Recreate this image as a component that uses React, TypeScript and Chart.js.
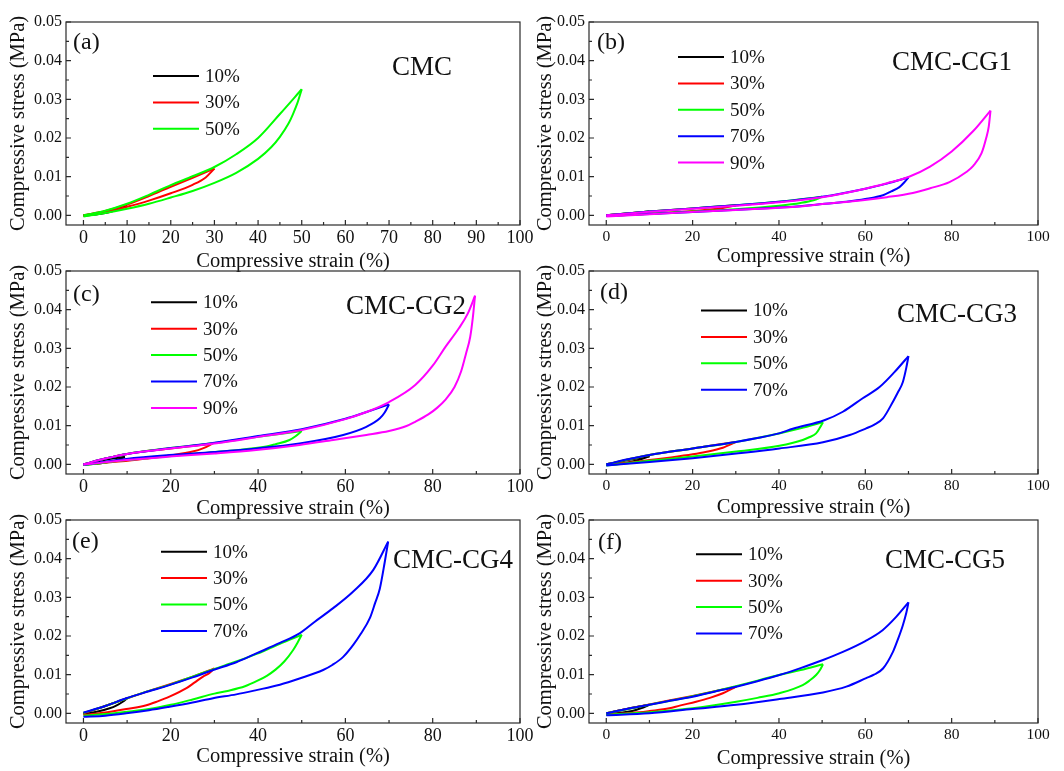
import React, { useEffect, useRef } from 'react';
import { Chart, registerables } from 'chart.js';

Chart.register(...registerables);

type Pt = [number, number];

const FONT = "'Liberation Serif', 'Times New Roman', serif";

const LEVELS = ['10%', '30%', '50%', '70%', '90%'];
const COLORS = ['#000000', '#ff0000', '#00ff00', '#0000ff', '#ff00ff'];

const X_TICKS_10 = [0, 10, 20, 30, 40, 50, 60, 70, 80, 90, 100];
const X_MINOR_5 = [5, 15, 25, 35, 45, 55, 65, 75, 85, 95];
const X_TICKS_20 = [0, 20, 40, 60, 80, 100];
const X_MINOR_10 = [10, 30, 50, 70, 90];
const Y_TICKS = [0, 0.01, 0.02, 0.03, 0.04, 0.05];
const Y_MINOR = [0.005, 0.015, 0.025, 0.035, 0.045];

const X_TITLE = 'Compressive strain (%)';
const Y_TITLE = 'Compressive stress (MPa)';

// ---------- (a) CMC ----------
const CMC_10: Pt[] = [[0, 0], [5, 0.001], [10, 0.0025], [7, 0.0012], [4, 0.0004], [0, -0.0001]];
const CMC_30: Pt[] = [[0, 0], [5, 0.0011], [10, 0.0028], [15, 0.005], [20, 0.0074], [25, 0.0097], [30, 0.0121],
  [28, 0.0098], [25, 0.0079], [20, 0.0057], [15, 0.0038], [10, 0.0022], [5, 0.0008], [0, -0.0001]];
const CMC_50: Pt[] = [[0, 0], [5, 0.0012], [10, 0.003], [15, 0.0053], [20, 0.0078], [25, 0.0101], [30, 0.0125],
  [35, 0.0158], [40, 0.02], [45, 0.0262], [50, 0.0326],
  [49, 0.029], [48, 0.0262], [47, 0.0238], [45, 0.0203], [43, 0.0176], [40, 0.0146], [35, 0.011], [30, 0.0084],
  [25, 0.0063], [20, 0.0046], [15, 0.003], [10, 0.0017], [5, 0.0006], [0, -0.0003]];

// ---------- (b) CMC-CG1 ----------
const CG1_10: Pt[] = [[0, 0], [5, 0.0005], [10, 0.001], [5, 0.0003], [0, -0.0002]];
const CG1_30: Pt[] = [[0, 0], [10, 0.001], [20, 0.0018], [30, 0.0026], [27, 0.0019], [20, 0.0011], [10, 0.0004], [0, -0.0002]];
const CG1_50: Pt[] = [[0, 0], [10, 0.001], [20, 0.0018], [30, 0.0026], [40, 0.0035], [50, 0.0048],
  [48, 0.0039], [45, 0.0032], [40, 0.0025], [30, 0.0016], [20, 0.001], [10, 0.0004], [0, -0.0002]];
const CG1_70: Pt[] = [[0, 0], [10, 0.001], [20, 0.0018], [30, 0.0026], [40, 0.0035], [50, 0.0048], [60, 0.0069], [65, 0.0082], [70, 0.0098],
  [69, 0.0085], [67.9, 0.0073], [66, 0.0062], [64.1, 0.0052], [60, 0.0042], [55.6, 0.0035], [50, 0.0029], [44, 0.0023],
  [35, 0.0017], [24.7, 0.0011], [15, 0.0006], [0, -0.0002]];
const CG1_90: Pt[] = [[0, 0], [10, 0.0009], [20, 0.0017], [30, 0.0025], [40, 0.0034], [50, 0.0047], [60, 0.0069], [65, 0.0083],
  [70, 0.0099], [75, 0.0126], [80, 0.0165], [85, 0.0218], [89, 0.0271],
  [88.6, 0.023], [88, 0.02], [86.9, 0.016], [85, 0.0128], [83.4, 0.0112], [79.5, 0.0086], [75, 0.007], [71, 0.0058],
  [65, 0.0047], [59.4, 0.0039], [50, 0.0029], [44, 0.0022], [30, 0.0014], [20.8, 0.0009], [10, 0.0003], [0, -0.0003]];

// ---------- (c) CMC-CG2 ----------
const CG2_10: Pt[] = [[0, 0], [5, 0.0012], [9.5, 0.0019], [7, 0.0009], [4, 0.0003], [0, -0.0001]];
const CG2_30: Pt[] = [[0, 0], [5, 0.0015], [10, 0.0027], [20, 0.0041], [29.5, 0.0053],
  [27.5, 0.0042], [25, 0.0033], [19.7, 0.0023], [15, 0.0016], [12.2, 0.0012], [5, 0.0004], [0, -0.0001]];
const CG2_50: Pt[] = [[0, 0], [5, 0.0015], [10, 0.0027], [20, 0.0042], [30, 0.0055], [40, 0.0071], [50, 0.0086],
  [48.5, 0.0072], [47.2, 0.0063], [44, 0.0052], [41.9, 0.0046], [34.3, 0.0036], [27, 0.0029], [19.7, 0.0021], [10, 0.0011], [0, -0.0002]];
const CG2_70: Pt[] = [[0, 0], [5, 0.0015], [10, 0.0027], [20, 0.0042], [30, 0.0056], [40, 0.0073], [50, 0.0091], [60, 0.0118],
  [65, 0.0136], [70, 0.0155],
  [69, 0.0134], [67.9, 0.0119], [64.8, 0.0097], [59.5, 0.0076], [49.5, 0.0054], [39.6, 0.0041], [30, 0.0032],
  [19.7, 0.0024], [9.8, 0.0014], [0, -0.0001]];
const CG2_90: Pt[] = [[0, 0], [5, 0.0015], [10, 0.0027], [20, 0.0041], [30, 0.0054], [40, 0.0071], [50, 0.0089], [60, 0.0117],
  [65, 0.0136], [70, 0.0161], [76, 0.0205], [80, 0.0255], [83, 0.0305], [86, 0.0352], [88, 0.0389], [89.7, 0.0436],
  [89.2, 0.038], [88.6, 0.033], [87.6, 0.0285], [86.5, 0.024], [85, 0.02], [83, 0.0168], [81, 0.0146], [79, 0.0129],
  [76, 0.011], [74, 0.0099], [70, 0.0086], [64.8, 0.0076], [57.2, 0.0063], [49.5, 0.005], [39.6, 0.0037], [30, 0.0028],
  [19.7, 0.002], [9.8, 0.0011], [0, -0.0001]];

// ---------- (d) CMC-CG3 ----------
const CG3_10: Pt[] = [[0, 0], [5, 0.0011], [10, 0.0021], [7, 0.001], [4, 0.0003], [0, -0.0002]];
const CG3_30: Pt[] = [[0, 0], [10, 0.0024], [20, 0.0041], [30.1, 0.0058],
  [27, 0.0043], [23, 0.0032], [20, 0.0026], [15, 0.0018], [10, 0.0011], [5, 0.0004], [0, -0.0002]];
const CG3_50: Pt[] = [[0, 0], [10, 0.0024], [20, 0.0041], [30, 0.0058], [40, 0.008], [45, 0.0093], [50.2, 0.0109],
  [49.5, 0.0095], [48.6, 0.008], [47, 0.007], [45.5, 0.0063], [40.1, 0.0048], [30.1, 0.0033], [20, 0.002], [10, 0.0009], [0, -0.0003]];
const CG3_70: Pt[] = [[0, 0], [5, 0.0013], [10, 0.0024], [20, 0.0041], [30, 0.0058], [35, 0.0068], [40, 0.008], [43.2, 0.0092],
  [50.5, 0.0114], [54.8, 0.0136], [59.4, 0.0171], [63.3, 0.02], [67.2, 0.0244], [70, 0.028],
  [69.5, 0.025], [68.7, 0.0213], [67.5, 0.0185], [66.4, 0.0162], [64.1, 0.0119], [62, 0.0102], [60.2, 0.0093],
  [56.4, 0.0076], [50.2, 0.0057], [40.1, 0.0041], [30.1, 0.0028], [20, 0.0016], [10, 0.0006], [0, -0.0003]];

// ---------- (e) CMC-CG4 ----------
const CG4_10: Pt[] = [[0, 0], [5, 0.0019], [10, 0.0039], [9, 0.003], [7.5, 0.002], [6, 0.0013], [3, 0.0004], [0, -0.0002]];
const CG4_30: Pt[] = [[0, 0], [5, 0.0019], [10, 0.0039], [15, 0.0058], [20, 0.0076], [25, 0.0095], [30, 0.0116],
  [28.8, 0.0104], [27.4, 0.0095], [25.5, 0.008], [23.6, 0.0065], [19.7, 0.0043], [17, 0.0031], [14.4, 0.0021],
  [9.8, 0.0011], [5, 0.0002], [0, -0.0004]];
const CG4_50: Pt[] = [[0, 0.0001], [5, 0.0019], [10, 0.0039], [15, 0.0058], [20, 0.0075], [25, 0.0095], [30, 0.0115],
  [35, 0.0134], [40, 0.0155], [45, 0.018], [50, 0.0203],
  [49, 0.0182], [48, 0.0163], [46, 0.0134], [44, 0.0113], [42, 0.0097], [40, 0.0085], [37, 0.007], [33, 0.0058],
  [30, 0.0051], [25, 0.0036], [20, 0.0022], [15, 0.0011], [10, 0.0004], [5, -0.0002], [0, -0.0006]];
const CG4_70: Pt[] = [[0, 0.0002], [5, 0.0019], [9.8, 0.0039], [15, 0.0057], [19.7, 0.0073], [25, 0.0093], [29.7, 0.0112],
  [35, 0.0132], [39.6, 0.0155], [45, 0.0182], [49.5, 0.0207], [53, 0.0237], [57.2, 0.0272], [61.8, 0.0315],
  [66.4, 0.0371], [69.8, 0.0444],
  [69, 0.039], [67.9, 0.0323], [66.8, 0.0285], [65.6, 0.0246], [63.5, 0.0205], [61.8, 0.0177], [59.5, 0.0146],
  [57, 0.0125], [54.9, 0.0112], [49.5, 0.009], [45, 0.0074], [39.6, 0.006], [35, 0.0049], [29.7, 0.0039],
  [25, 0.0028], [19.7, 0.0017], [15, 0.0008], [9.8, 0.0], [5, -0.0006], [0, -0.0009]];

// ---------- (f) CMC-CG5 ----------
const CG5_10: Pt[] = [[0, 0], [5, 0.0012], [10, 0.0022], [8, 0.0013], [6, 0.0006], [3, 0.0001], [0, -0.0002]];
const CG5_30: Pt[] = [[0, 0], [10, 0.0023], [20, 0.0045], [30.1, 0.0069],
  [28.5, 0.006], [27, 0.0052], [24, 0.004], [20.8, 0.003], [17, 0.002], [14.6, 0.0013], [10, 0.0006], [7.7, 0.0003], [0, -0.0003]];
const CG5_50: Pt[] = [[0, 0], [10, 0.0022], [20, 0.0044], [30, 0.007], [40, 0.0099], [45, 0.0112], [50.2, 0.0127],
  [49.5, 0.0112], [48.6, 0.0099], [47, 0.0084], [45.5, 0.0073], [40.1, 0.0052], [35, 0.004], [30.1, 0.003],
  [20, 0.0013], [10, 0.0003], [0, -0.0004]];
const CG5_70: Pt[] = [[0, 0], [5, 0.0012], [10, 0.0022], [15, 0.0033], [20, 0.0043], [25, 0.0056], [30.1, 0.0069],
  [35, 0.0083], [40.1, 0.0099], [45, 0.0117], [50.2, 0.0138], [54.8, 0.0159], [60, 0.0187], [64, 0.0215],
  [67.2, 0.025], [70, 0.0287],
  [69.5, 0.026], [68.7, 0.0228], [67.5, 0.019], [66.4, 0.0159], [64.1, 0.0116], [62, 0.01], [60.2, 0.0091],
  [55.6, 0.0069], [50.2, 0.0054], [40.1, 0.0037], [30.1, 0.0022], [20, 0.0011], [10, 0.0], [0, -0.0005]];

interface PanelCfg {
  tag: string;
  name: string;
  loops: Pt[][];
  col: number;
  row: number;
  xTicks: number[];
  xMinor: number[];
  xFont: number;
  tagPos: [number, number];
  namePos: [number, number];
  legendPos: [number, number];
  titlePad: number;
}

const PANELS: PanelCfg[] = [
  { tag: '(a)', name: 'CMC', loops: [CMC_10, CMC_30, CMC_50], col: 0, row: 0, xTicks: X_TICKS_10, xMinor: X_MINOR_5, xFont: 18,
    tagPos: [73, 48.5], namePos: [392, 75], legendPos: [153, 76], titlePad: 1 },
  { tag: '(b)', name: 'CMC-CG1', loops: [CG1_10, CG1_30, CG1_50, CG1_70, CG1_90], col: 1, row: 0, xTicks: X_TICKS_20, xMinor: X_MINOR_10, xFont: 15.5,
    tagPos: [69, 49], namePos: [364, 70], legendPos: [150, 57], titlePad: 6 },
  { tag: '(c)', name: 'CMC-CG2', loops: [CG2_10, CG2_30, CG2_50, CG2_70, CG2_90], col: 0, row: 1, xTicks: X_TICKS_20, xMinor: X_MINOR_10, xFont: 18,
    tagPos: [73, 51.5], namePos: [346, 64.5], legendPos: [151, 53.3], titlePad: 3 },
  { tag: '(d)', name: 'CMC-CG3', loops: [CG3_10, CG3_30, CG3_50, CG3_70], col: 1, row: 1, xTicks: X_TICKS_20, xMinor: X_MINOR_10, xFont: 15.5,
    tagPos: [72, 50], namePos: [369, 72.7], legendPos: [173, 61.5], titlePad: 4 },
  { tag: '(e)', name: 'CMC-CG4', loops: [CG4_10, CG4_30, CG4_50, CG4_70], col: 0, row: 2, xTicks: X_TICKS_20, xMinor: X_MINOR_10, xFont: 18,
    tagPos: [72, 50], namePos: [393, 70], legendPos: [161, 53.7], titlePad: 4 },
  { tag: '(f)', name: 'CMC-CG5', loops: [CG5_10, CG5_30, CG5_50, CG5_70], col: 1, row: 2, xTicks: X_TICKS_20, xMinor: X_MINOR_10, xFont: 15.5,
    tagPos: [70, 50.5], namePos: [357, 70], legendPos: [168, 56.3], titlePad: 2 },
];

const COL_LEFT = [0, 528];
const COL_WIDTH = [542, 536];
const COL_YAXIS = [66, 61];
const COL_RIGHTPAD = [22, 26];
const ROW_STEP = 249;
const CANVAS_H = 273;
const PLOT_TOP = 22;
const XAXIS_H = 48;

function splitLoop(loop: Pt[]): [Pt[], Pt[]] {
  let k = 0;
  loop.forEach((p, i) => {
    if (p[0] > loop[k][0]) k = i;
  });
  return [loop.slice(0, k + 1), loop.slice(k)];
}

function makeDecor(cfg: PanelCfg) {
  return {
    id: 'decor',
    afterDatasetsDraw(chart: any) {
      const { ctx, chartArea: a, scales } = chart;
      const xs = scales.x;
      const ys = scales.y;
      ctx.save();
      ctx.strokeStyle = '#2a2a2a';
      ctx.lineWidth = 1.2;
      ctx.strokeRect(a.left, a.top, a.right - a.left, a.bottom - a.top);
      ctx.beginPath();
      cfg.xTicks.forEach((v) => {
        const px = xs.getPixelForValue(v);
        ctx.moveTo(px, a.bottom);
        ctx.lineTo(px, a.bottom - 5);
      });
      cfg.xMinor.forEach((v) => {
        const px = xs.getPixelForValue(v);
        ctx.moveTo(px, a.bottom);
        ctx.lineTo(px, a.bottom - 3);
      });
      Y_TICKS.forEach((v) => {
        const py = ys.getPixelForValue(v);
        ctx.moveTo(a.left, py);
        ctx.lineTo(a.left + 5, py);
      });
      Y_MINOR.forEach((v) => {
        const py = ys.getPixelForValue(v);
        ctx.moveTo(a.left, py);
        ctx.lineTo(a.left + 3, py);
      });
      ctx.stroke();
      ctx.restore();
    },
    afterDraw(chart: any) {
      const { ctx } = chart;
      ctx.save();
      ctx.fillStyle = '#111';
      ctx.textBaseline = 'alphabetic';
      ctx.textAlign = 'left';
      ctx.font = `24px ${FONT}`;
      ctx.fillText(cfg.tag, cfg.tagPos[0], cfg.tagPos[1]);
      ctx.font = `27px ${FONT}`;
      ctx.fillText(cfg.name, cfg.namePos[0], cfg.namePos[1]);
      ctx.font = `19px ${FONT}`;
      ctx.textBaseline = 'middle';
      cfg.loops.forEach((_, i) => {
        const y = cfg.legendPos[1] + i * 26.4;
        const x = cfg.legendPos[0];
        ctx.strokeStyle = COLORS[i];
        ctx.lineWidth = 2;
        ctx.beginPath();
        ctx.moveTo(x, y);
        ctx.lineTo(x + 46, y);
        ctx.stroke();
        ctx.fillStyle = '#111';
        ctx.fillText(LEVELS[i], x + 52, y + 1);
      });
      ctx.restore();
    },
  };
}

function Panel({ cfg }: { cfg: PanelCfg }) {
  const ref = useRef<HTMLCanvasElement>(null);
  const W = COL_WIDTH[cfg.col];
  useEffect(() => {
    const n = cfg.loops.length;
    const datasets: any[] = [];
    cfg.loops.forEach((loop, i) => {
      const segs = splitLoop(loop);
      segs.forEach((seg, j) => {
        datasets.push({
          label: LEVELS[i] + (j === 0 ? ' loading' : ' unloading'),
          data: seg.map(([x, y]) => ({ x, y })),
          borderColor: COLORS[i],
          backgroundColor: COLORS[i],
          borderWidth: 2,
          pointRadius: 0,
          pointHoverRadius: 0,
          showLine: true,
          fill: false,
          cubicInterpolationMode: 'monotone',
          order: n - i,
        });
      });
    });
    const chart = new Chart(ref.current as HTMLCanvasElement, {
      type: 'scatter',
      data: { datasets },
      options: {
        animation: false,
        responsive: false,
        events: [],
        layout: { padding: { left: 0, right: COL_RIGHTPAD[cfg.col], top: PLOT_TOP, bottom: 0 } },
        plugins: { legend: { display: false }, tooltip: { enabled: false } },
        scales: {
          x: {
            type: 'linear',
            min: -4,
            max: 100,
            afterBuildTicks: (s: any) => {
              s.ticks = cfg.xTicks.map((v) => ({ value: v }));
            },
            afterFit: (s: any) => {
              s.height = XAXIS_H;
            },
            grid: { display: false, drawTicks: false },
            border: { display: false },
            ticks: {
              autoSkip: false,
              maxRotation: 0,
              padding: 4,
              color: '#111',
              font: { family: FONT, size: cfg.xFont, lineHeight: 1 },
              callback: (v: any) => String(v),
            },
            title: {
              display: true,
              text: X_TITLE,
              color: '#111',
              font: { family: FONT, size: 20.5, lineHeight: 1 },
              padding: { top: 0, bottom: cfg.titlePad },
            },
          },
          y: {
            type: 'linear',
            min: -0.0025,
            max: 0.05,
            afterBuildTicks: (s: any) => {
              s.ticks = Y_TICKS.map((v) => ({ value: v }));
            },
            afterFit: (s: any) => {
              s.width = COL_YAXIS[cfg.col];
            },
            grid: { display: false, drawTicks: false },
            border: { display: false },
            ticks: {
              autoSkip: false,
              padding: 4,
              color: '#111',
              font: { family: FONT, size: 16, lineHeight: 1 },
              callback: (v: any) => Number(v).toFixed(2),
            },
            title: {
              display: true,
              text: Y_TITLE,
              color: '#111',
              font: { family: FONT, size: 20.5, lineHeight: 1 },
              padding: { top: cfg.col === 0 ? 8 : 7, bottom: 0 },
            },
          },
        },
      } as any,
      plugins: [makeDecor(cfg)],
    });
    return () => chart.destroy();
  }, [cfg]);
  return (
    <canvas
      ref={ref}
      width={W}
      height={CANVAS_H}
      style={{
        position: 'absolute',
        left: COL_LEFT[cfg.col],
        top: cfg.row * ROW_STEP,
        width: W,
        height: CANVAS_H,
      }}
    />
  );
}

export default function App() {
  return (
    <div
      style={{
        position: 'absolute',
        left: 0,
        top: 0,
        width: 1064,
        height: 771,
        background: '#ffffff',
        overflow: 'hidden',
      }}
    >
      {PANELS.map((p) => (
        <Panel key={p.tag} cfg={p} />
      ))}
    </div>
  );
}
